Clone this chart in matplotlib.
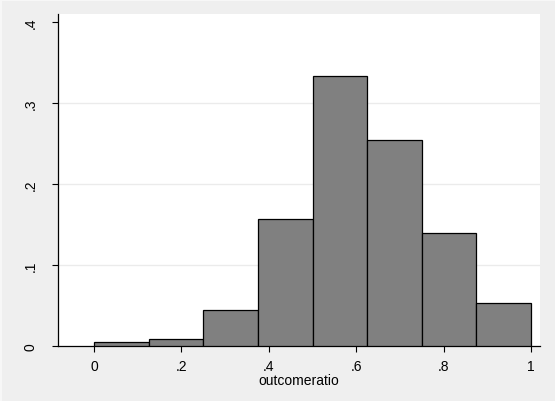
import matplotlib
matplotlib.use("Agg")
import matplotlib.pyplot as plt
from matplotlib.lines import Line2D
import numpy as np

bin_edges = [0, 0.125, 0.25, 0.375, 0.5, 0.625, 0.75, 0.875, 1.0]
fractions = [0.0053, 0.0086, 0.0448, 0.157, 0.334, 0.255, 0.1395, 0.053]
xticks = [0, 0.2, 0.4, 0.6, 0.8, 1.0]
xtick_labels = ["0", ".2", ".4", ".6", ".8", "1"]
yticks = [0, 0.1, 0.2, 0.3, 0.4]
ytick_labels = ["0", ".1", ".2", ".3", ".4"]
grid_levels = [0.1, 0.2, 0.3]

plt.rcParams['font.family'] = ['Liberation Sans', 'DejaVu Sans']

fig = plt.figure(figsize=(5.55, 4.02), dpi=100)
fig.patch.set_facecolor('#efefef')
fig.add_artist(Line2D([0, 1], [1, 1], transform=fig.transFigure, color='#f7f7f7', linewidth=3))
fig.add_artist(Line2D([0, 0], [0, 1], transform=fig.transFigure, color='#f7f7f7', linewidth=3))
ax = fig.add_axes([58/555, 1-347/402, (540-58)/555, (347-15)/402])
ax.set_facecolor('white')

lefts = np.array(bin_edges[:-1])
widths = np.diff(bin_edges)
ax.bar(lefts, fractions, width=widths, align='edge', color='#808080',
       edgecolor='black', linewidth=0.9, zorder=3)

ax.set_xlim(-0.0824, 1.0206)
ax.set_ylim(0, 0.41)
ax.set_xticks(xticks)
ax.set_xticklabels(xtick_labels)
ax.set_yticks(yticks)
ax.set_yticklabels(ytick_labels, rotation=90, va='center')
for y in grid_levels:
    ax.axhline(y, color='#ebebeb', linewidth=1.0, zorder=1)

for s in ['top', 'right']:
    ax.spines[s].set_visible(False)
for s in ['left', 'bottom']:
    ax.spines[s].set_linewidth(0.9)
ax.tick_params(axis='both', labelsize=10, length=4.3, width=0.8)
ax.tick_params(axis='x', pad=5)
ax.tick_params(axis='y', pad=10.5)
ax.set_xlabel('outcomeratio', fontsize=10, labelpad=0)

fig.savefig('out.png', dpi=100, facecolor=fig.get_facecolor())
